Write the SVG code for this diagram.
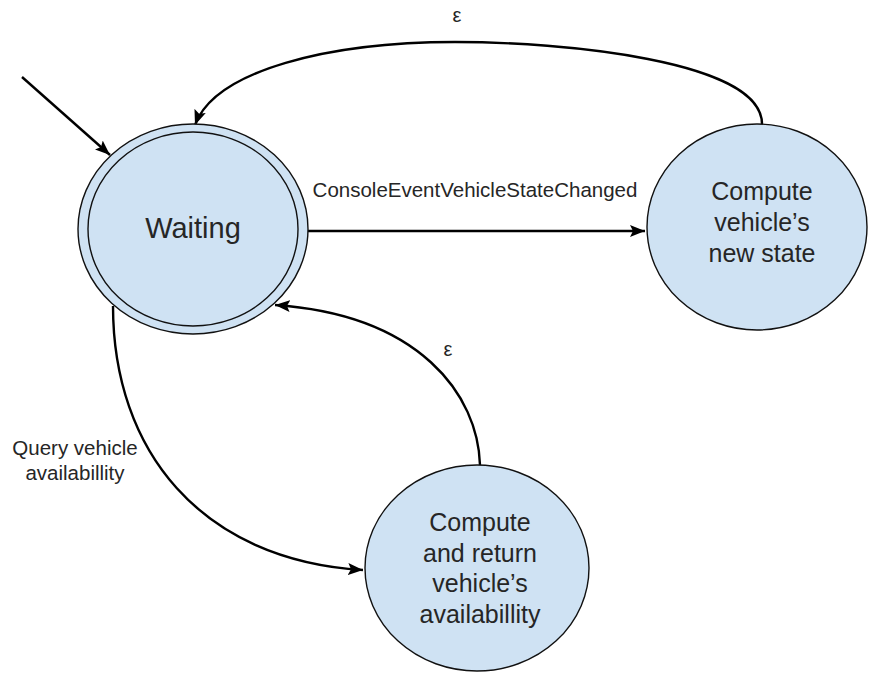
<svg xmlns="http://www.w3.org/2000/svg" width="869" height="675" viewBox="0 0 869 675">
  <style>
    .state { fill: #cfe2f3; stroke: #111; stroke-width: 1.4; }
    .label { font-family: "Liberation Sans", Arial, sans-serif; fill: #262626; text-anchor: middle; }
    .edge { fill: none; stroke: #000; stroke-width: 2.4; }
  </style>
  <defs>
    <marker id="arrow" markerUnits="userSpaceOnUse" markerWidth="16" markerHeight="12" refX="15" refY="6" orient="auto">
      <path d="M0,0 L15,6 L0,12 L3,6 z" fill="#000"/>
    </marker>
  </defs>
  <rect width="869" height="675" fill="#fff"/>

  <!-- transitions -->
  <g id="connectors">
    <path class="edge" d="M22,77 L110,155" marker-end="url(#arrow)"/>
    <path class="edge" d="M762,124 C762,60 560,42 455,42 C330,42 215,70 195,125" marker-end="url(#arrow)"/>
    <path class="edge" d="M308,231 L645,231" stroke-width="2" marker-end="url(#arrow)"/>
    <path class="edge" d="M480,465 C478,395 420,315 275,305" marker-end="url(#arrow)"/>
    <path class="edge" d="M113,306 C113,450 200,560 363,570" marker-end="url(#arrow)"/>
  </g>

  <g id="edge-labels">
    <text class="label" x="457" y="22" font-size="20">ε</text>
    <text class="label" x="475" y="197" font-size="20.5">ConsoleEventVehicleStateChanged</text>
    <text class="label" x="448" y="356" font-size="20">ε</text>
    <text class="label" x="75" y="455" font-size="20.5">Query vehicle</text>
    <text class="label" x="75" y="480" font-size="20.5">availabillity</text>
  </g>

  <g id="waiting">
    <ellipse class="state" cx="193" cy="229" rx="115" ry="105"/>
    <ellipse cx="193" cy="229" rx="105" ry="97" fill="none" stroke="#111" stroke-width="1.4"/>
    <text class="label" x="193" y="238" font-size="29">Waiting</text>
  </g>

  <g id="compute-new-state">
    <ellipse class="state" cx="757" cy="227" rx="110" ry="103"/>
    <text class="label" x="762" y="200" font-size="25">Compute</text>
    <text class="label" x="762" y="231" font-size="25">vehicle’s</text>
    <text class="label" x="762" y="262" font-size="25">new state</text>
  </g>

  <g id="compute-availability">
    <ellipse class="state" cx="477" cy="568" rx="112" ry="103"/>
    <text class="label" x="480" y="531" font-size="25">Compute</text>
    <text class="label" x="480" y="562" font-size="25">and return</text>
    <text class="label" x="480" y="592" font-size="25">vehicle’s</text>
    <text class="label" x="480" y="623" font-size="25">availabillity</text>
  </g>
</svg>
